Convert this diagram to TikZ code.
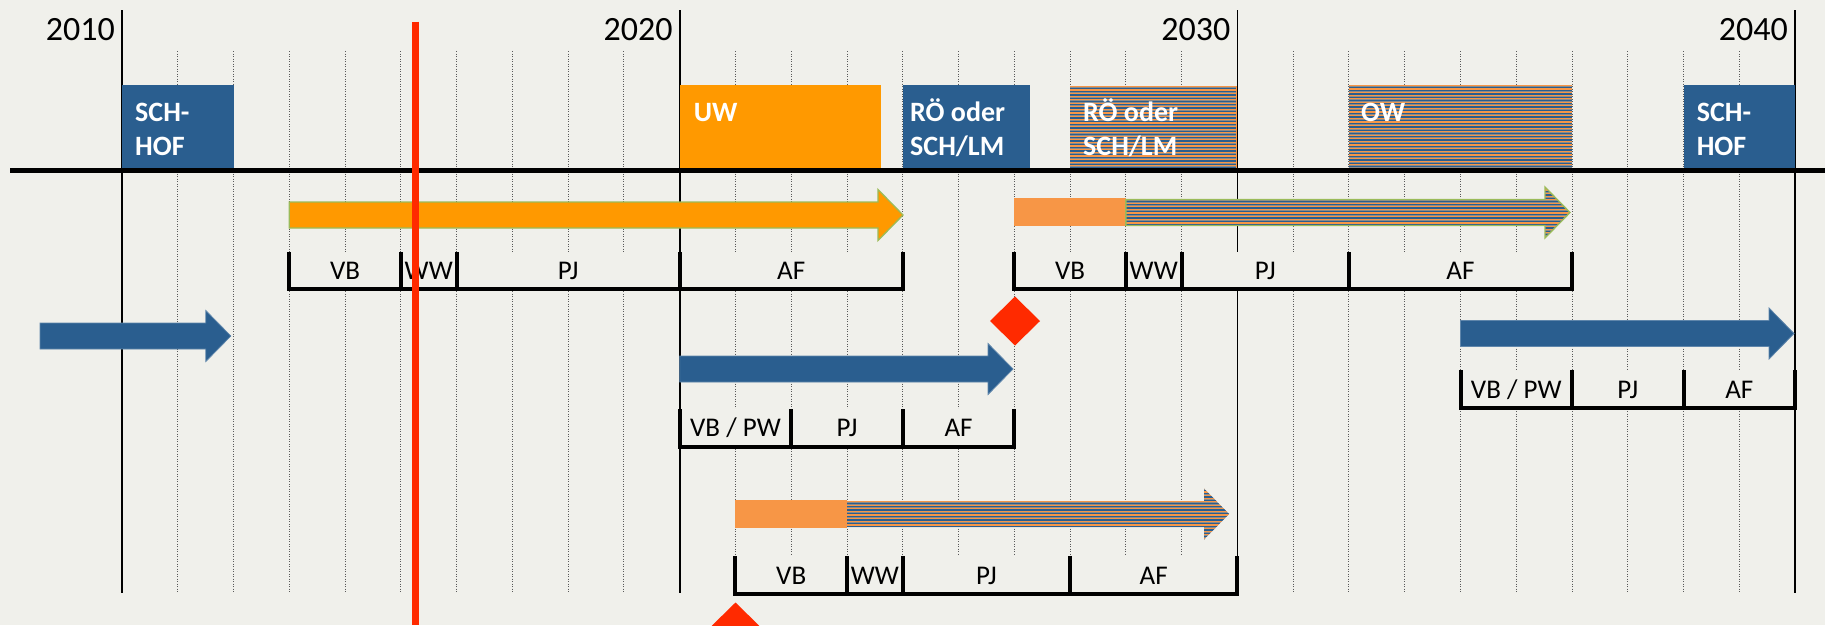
\documentclass[tikz,border=0pt]{standalone}
\usepackage{fontspec}
\setmainfont{Carlito}
\definecolor{bg}{HTML}{F0F0EB}
\definecolor{blueC}{HTML}{2A5E8F}
\definecolor{uwC}{HTML}{FF9900}
\definecolor{orC}{HTML}{F79646}
\definecolor{redC}{HTML}{FF2A00}
\definecolor{grnC}{HTML}{9BBB59}
\definecolor{stripeGray}{HTML}{8C8A88}
% arrow outline: tail x, tip x, centre y
\newcommand\arrowpath[3]{({#1},{#3-13}) -- ({#2-25},{#3-13}) -- ({#2-25},{#3-25.5}) -- ({#2},{#3}) -- ({#2-25},{#3+25.5}) -- ({#2-25},{#3+13}) -- ({#1},{#3+13}) -- cycle}
% striped fill of a region: x0 y0 x1 y1
\newcommand\stripefill[4]{%
  \fill[stripeGray] ({#1},{#2}) rectangle ({#3},{#4});
  \pgfmathtruncatemacro\nstripes{(#4-#2)/3.3}
  \foreach \s in {0,...,\nstripes}{
    \fill[orC] ({#1},{#2+3.3*\s}) rectangle ({#3},{#2+3.3*\s+1.25});
    \fill[blueC] ({#1},{#2+3.3*\s+1.65}) rectangle ({#3},{#2+3.3*\s+2.9});
  }}
% bracket segment: year a, year b, top, bottom, label, name
\newcommand\brkseg[6]{%
  \fill[bg] ({yr(#1)},#3) rectangle ({yr(#2)},#4);
  \node[brklab] (#6) at ({(yr(#1)+yr(#2))/2},{#4-10}) {#5};
  \draw[brk] ({yr(#1)},#3) -- ({yr(#1)},#4) -- ({yr(#2)},#4) -- ({yr(#2)},#3);
}
\begin{document}
\begin{tikzpicture}[x=1pt,y=-1pt,
  declare function={yr(\a)=122+55.77*(\a-2010);},
  yeardot/.style={line width=1pt, black!65, dash pattern=on 1pt off 1.5pt},
  decade/.style={line width=1.8pt, black},
  yearlab/.style={anchor=base east, inner sep=0pt, font=\fontsize{34}{40}\selectfont},
  boxn/.style={anchor=north west, inner sep=0pt, draw=none, minimum height=85pt},
  boxtxt/.style={anchor=north west, inner sep=0pt, align=left, text=white,
    font=\fontsize{28}{34}\selectfont\bfseries},
  brklab/.style={anchor=base, inner sep=0pt, font=\fontsize{27}{32}\selectfont},
  brk/.style={line width=4pt, black, line join=miter},
  axisline/.style={line width=5pt, black},
  redline/.style={line width=7pt, redC},
  bluearrow/.style={fill=blueC, draw=blueC!75!white, line width=0.8pt},
  grnedge/.style={draw=grnC, line width=1.3pt},
  diam/.style={fill=redC}
]
\useasboundingbox (0,0) rectangle (1825,625);
\fill[bg] (0,0) rectangle (1825,625);

% year grid
\foreach \k in {2011,...,2019}{\draw[yeardot] ({yr(\k)},51) -- ({yr(\k)},593);}
\foreach \k in {2021,...,2029}{\draw[yeardot] ({yr(\k)},51) -- ({yr(\k)},593);}
\foreach \k in {2031,...,2039}{\draw[yeardot] ({yr(\k)},51) -- ({yr(\k)},593);}
\foreach \k in {2010,2020,2030,2040}{
  \draw[decade] ({yr(\k)},10) -- ({yr(\k)},593);
  \node[yearlab] (y\k) at ({yr(\k)-7},40.5) {\k};
}

% top boxes
\node[boxn, fill=blueC, minimum width=111.5pt] (hofA) at ({yr(2010)},85) {};
\node[boxtxt] (hofAt) at (135,96) {\rule{0pt}{25pt}SCH-\\HOF};
\node[boxn, fill=uwC, minimum width=201.3pt] (uw) at ({yr(2020)},85) {};
\node[boxtxt] (uwt) at (693.7,96) {\rule{0pt}{25pt}UW};
\node[boxn, fill=blueC, minimum width=127.2pt] (roeA) at ({yr(2024)},85) {};
\node[boxtxt] (roeAt) at (910,96) {\rule{0pt}{25pt}RÖ oder\\SCH/LM};
\begin{scope}
  \clip ({yr(2027)},86) rectangle ({yr(2030)},170);
  \stripefill{yr(2027)}{86}{yr(2030)}{170}
\end{scope}
\draw[orC, line width=1pt] ({yr(2027)},86.5) -- ({yr(2030)-0.5},86.5) -- ({yr(2030)-0.5},170);
\node[boxtxt] (roeBt) at (1083,96) {\rule{0pt}{25pt}RÖ oder\\SCH/LM};
\begin{scope}
  \clip ({yr(2032)},85) rectangle ({yr(2036)},170);
  \stripefill{yr(2032)}{85}{yr(2036)}{170}
\end{scope}
\node[boxtxt] (owt) at (1361,96) {\rule{0pt}{25pt}OW};
\node[boxn, fill=blueC, minimum width=111.5pt] (hofB) at ({yr(2038)},85) {};
\node[boxtxt] (hofBt) at (1696.6,96) {\rule{0pt}{25pt}SCH-\\HOF};

% main axis
\draw[axisline] (10,170) -- (1825,170);

% row 1 arrows
\filldraw[fill=uwC, grnedge] \arrowpath{yr(2013)}{903}{215};
\fill[orC] ({yr(2026)},198) rectangle ({yr(2028)},226);
\begin{scope}
  \clip \arrowpath{yr(2028)}{1570}{212.5};
  \stripefill{yr(2028)}{186}{1571}{240}
\end{scope}
\draw[grnedge] \arrowpath{yr(2028)}{1570}{212.5};

% blue arrows
\filldraw[bluearrow] \arrowpath{40}{230.8}{336};
\filldraw[bluearrow] \arrowpath{yr(2020)}{1013}{369};
\filldraw[bluearrow] \arrowpath{yr(2034)}{1794}{333.5};

% bottom arrow
\fill[orC] ({yr(2021)},500) rectangle ({yr(2023)},527.5);
\begin{scope}
  \clip \arrowpath{yr(2023)}{1229}{514};
  \stripefill{yr(2023)}{488}{1230}{541}
\end{scope}

% brackets
\brkseg{2013}{2015}{252}{289}{VB}{aVB}
\brkseg{2015}{2016}{252}{289}{WW}{aWW}
\brkseg{2016}{2020}{252}{289}{PJ}{aPJ}
\brkseg{2020}{2024}{252}{289}{AF}{aAF}

\brkseg{2026}{2028}{252}{289}{VB}{bVB}
\brkseg{2028}{2029}{252}{289}{WW}{bWW}
\brkseg{2029}{2032}{252}{289}{PJ}{bPJ}
\brkseg{2032}{2036}{252}{289}{AF}{bAF}

\brkseg{2020}{2022}{409}{446.5}{VB / PW}{cVB}
\brkseg{2022}{2024}{409}{446.5}{PJ}{cPJ}
\brkseg{2024}{2026}{409}{446.5}{AF}{cAF}

\brkseg{2034}{2036}{370}{408}{VB / PW}{dVB}
\brkseg{2036}{2038}{370}{408}{PJ}{dPJ}
\brkseg{2038}{2040}{370}{408}{AF}{dAF}

\brkseg{2021}{2023}{556}{594}{VB}{eVB}
\brkseg{2023}{2024}{556}{594}{WW}{eWW}
\brkseg{2024}{2027}{556}{594}{PJ}{ePJ}
\brkseg{2027}{2030}{556}{594}{AF}{eAF}

% milestones
\fill[diam] (1015,296.5) -- (1040,321) -- (1015,345.5) -- (990,321) -- cycle;
\fill[diam] (735.5,602.5) -- (760.5,627) -- (735.5,651.5) -- (710.5,627) -- cycle;

% today line
\draw[redline] (415.5,21.7) -- (415.5,625);
\end{tikzpicture}
\end{document}
